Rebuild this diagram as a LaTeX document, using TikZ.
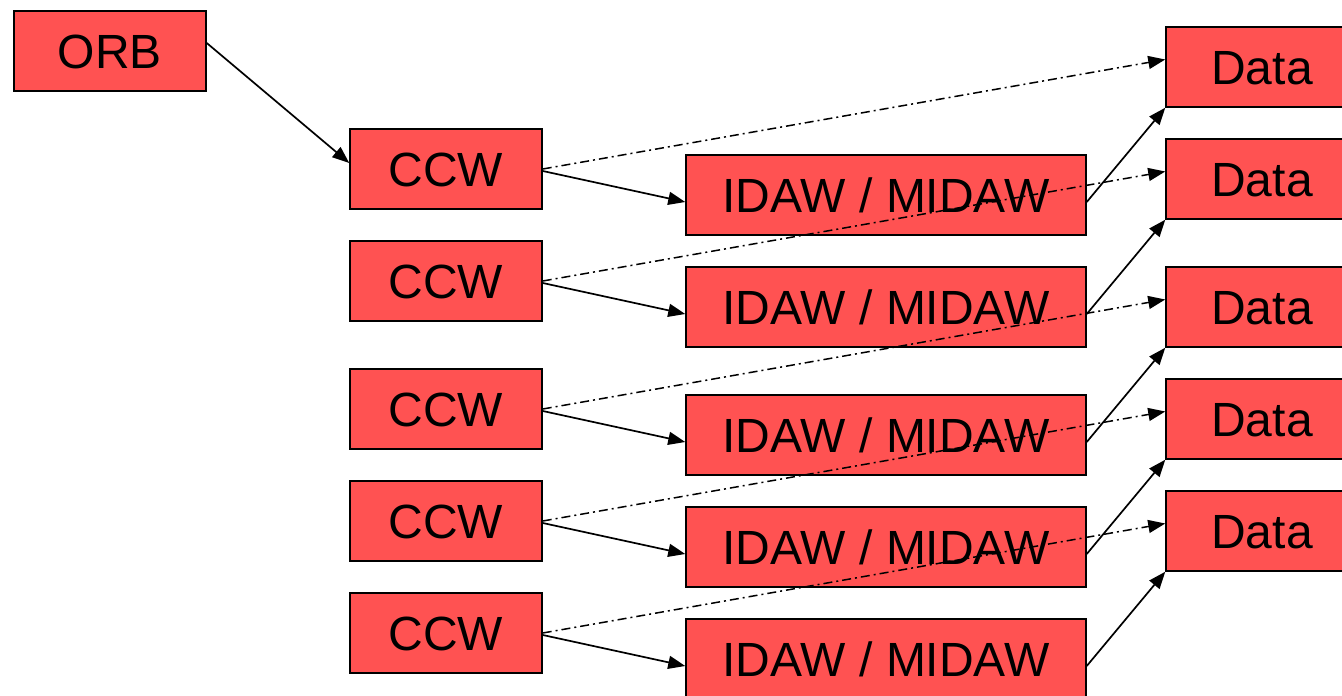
\documentclass[tikz,border=0pt]{standalone}
\usepackage{fontspec}
\setmainfont{Liberation Sans}
\usetikzlibrary{arrows.meta}
\definecolor{boxred}{RGB}{255,82,82}
\begin{document}
\begin{tikzpicture}[x=1pt,y=-1pt,
  box/.style={draw=black, line width=1.5pt, fill=boxred, inner sep=0pt,
    minimum height=80pt, text height=34.4pt, text depth=0pt,
    font=\fontsize{48}{51}\selectfont},
  smallbox/.style={box, minimum width=192pt},
  widebox/.style={box, minimum width=400pt},
  link/.style={line width=1.7pt, -{Triangle[length=17pt,width=13pt]}},
  ref/.style={line width=1.5pt, dash pattern=on 9pt off 4pt on 2pt off 4pt,
    -{Triangle[length=17pt,width=13pt]}}]
\useasboundingbox (0,0) rectangle (1342,696);

% control block
\node[smallbox] (orb) at (110,51) {ORB};

% channel command words
\node[smallbox] (ccw1) at (446,169) {CCW};
\node[smallbox] (ccw2) at (446,281) {CCW};
\node[smallbox] (ccw3) at (446,409) {CCW};
\node[smallbox] (ccw4) at (446,521) {CCW};
\node[smallbox] (ccw5) at (446,633) {CCW};

% indirect address word lists
\node[widebox] (idaw1) at (886,195) {IDAW / MIDAW};
\node[widebox] (idaw2) at (886,307) {IDAW / MIDAW};
\node[widebox] (idaw3) at (886,435) {IDAW / MIDAW};
\node[widebox] (idaw4) at (886,547) {IDAW / MIDAW};
\node[widebox] (idaw5) at (886,659) {IDAW / MIDAW};

% data areas
\node[smallbox] (data1) at (1262,67) {Data};
\node[smallbox] (data2) at (1262,179) {Data};
\node[smallbox] (data3) at (1262,307) {Data};
\node[smallbox] (data4) at (1262,419) {Data};
\node[smallbox] (data5) at (1262,531) {Data};

\draw[link] ([yshift=8pt]orb.east) -- ([yshift=6pt]ccw1.west);

\foreach \i in {1,...,5}{
  \draw[link] ([yshift=-2pt]ccw\i.east) -- ([yshift=-7pt]idaw\i.west);
  \draw[ref] (ccw\i.east) -- ([yshift=7.5pt]data\i.west);
  \draw[link] ([yshift=-7pt]idaw\i.east) -- (data\i.south west);
}
\end{tikzpicture}
\end{document}
